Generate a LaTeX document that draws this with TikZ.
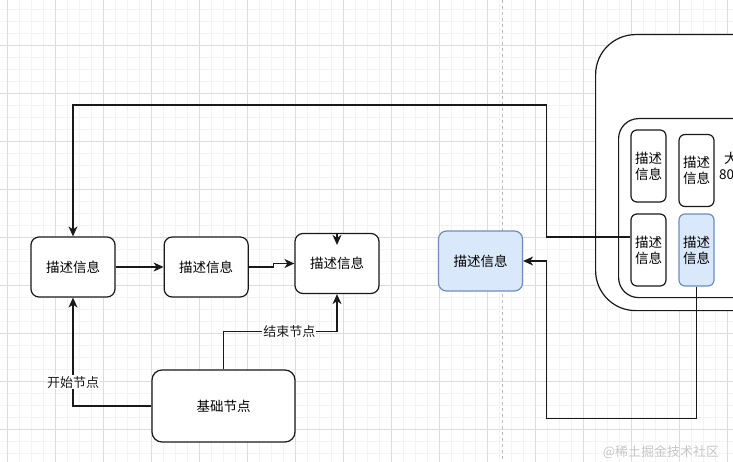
\documentclass[tikz,border=0pt]{standalone}
\usepackage{fontspec}
\setmainfont{Noto Sans CJK SC}
\usetikzlibrary{arrows.meta,positioning}
\definecolor{drawblue}{HTML}{DAE8FC}
\definecolor{drawbluestroke}{HTML}{6C8EBF}
\definecolor{gridminor}{HTML}{F3F3F3}
\definecolor{gridmajor}{HTML}{DCDCDC}
\tikzset{box/.style={draw=black!90,line width=1.2pt,rounded corners=8pt,fill=white,minimum width=84pt,minimum height=60pt,align=center,inner sep=0pt,font=\fontsize{13.5}{16}\selectfont},bluebox/.style={box,fill=drawblue,draw=drawbluestroke},cell/.style={box,minimum width=35pt,minimum height=72pt,rounded corners=6pt},container/.style={draw=black!90,line width=1.2pt,fill=white,anchor=north west,inner sep=0pt},edge/.style={-{Stealth[length=10pt,width=9pt,inset=3pt]},line width=1.2pt,black!90},lbl/.style={fill=white,inner sep=1pt,font=\fontsize{13}{15}\selectfont}}

\begin{document}
\begin{tikzpicture}[x=1pt,y=-1pt,node distance=48pt]
\useasboundingbox (0,0) rectangle (733,462);\clip (0,0) rectangle (733,462);
\fill[white] (0,0) rectangle (733,462);
\foreach \k in {0,...,60}{\draw[gridminor,line width=0.6pt] ({7+12*\k},0) -- ({7+12*\k},462);}\foreach \k in {0,...,37}{\draw[gridminor,line width=0.6pt] (0,{9+12*\k}) -- (733,{9+12*\k});}
\foreach \k in {0,...,15}{\draw[gridmajor,line width=0.7pt] ({7+48*\k},0) -- ({7+48*\k},462);}\foreach \k in {0,...,8}{\draw[gridmajor,line width=0.7pt] (0,{45+48*\k}) -- (733,{45+48*\k});}
\draw[gray!55,dashed,line width=0.8pt] (502,0) -- (502,462);
\node[box] (na) at (73,267) {描述信息};
\node[box,right=of na] (nb) {描述信息};
\node[box] (nc) at (337,263.5) {描述信息};
\node[bluebox] (nd) at (480.5,261) {描述信息};
\node[box,minimum width=143pt,minimum height=72pt,rounded corners=10pt] (ne) at (223.5,406) {基础节点};
\node[container,rounded corners=40pt,minimum width=260pt,minimum height=276pt] (outer) at (595,34) {};
\node[container,rounded corners=20pt,minimum width=240pt,minimum height=179pt] (inner) at (618,118) {};
\node[cell] (stl) at (648.5,166) {描述\\信息};\node[cell] (str) at (696.5,170.5) {描述\\信息};
\node[cell] (sbl) at (648.5,250) {描述\\信息};\node[cell,fill=drawblue,draw=drawbluestroke] (sbr) at (696.5,250) {描述\\信息};
\node[anchor=west,align=left,inner sep=0pt,font=\fontsize{13.5}{15.5}\selectfont] (size) at (719,166) {\hspace{5pt}大\\80};
\draw[edge] ([yshift=13pt]sbl.west) -- ++(-84,0) -- ++(0,-132) -| (na.north);
\draw[edge] (na) -- (nb);\draw[edge] (nb.east) -- ++(25,0) |- (nc.west);
\draw[edge] (nc.north) -- ++(0,12);
\draw[edge] (ne.west) -| node[lbl,pos=0.61]{开始节点} (na.south);
\draw[edge] (ne.north) -- ++(0,-38) -| node[lbl,pos=0.29]{结束节点} (nc.south);
\draw[edge] (sbr.south) -- ++(0,132) -- ++(-150,0) |- (nd.east);
\node[gray!45,font=\fontsize{13}{15}\selectfont] (mark) at (661,452) {@稀土掘金技术社区};
\end{tikzpicture}
\end{document}
